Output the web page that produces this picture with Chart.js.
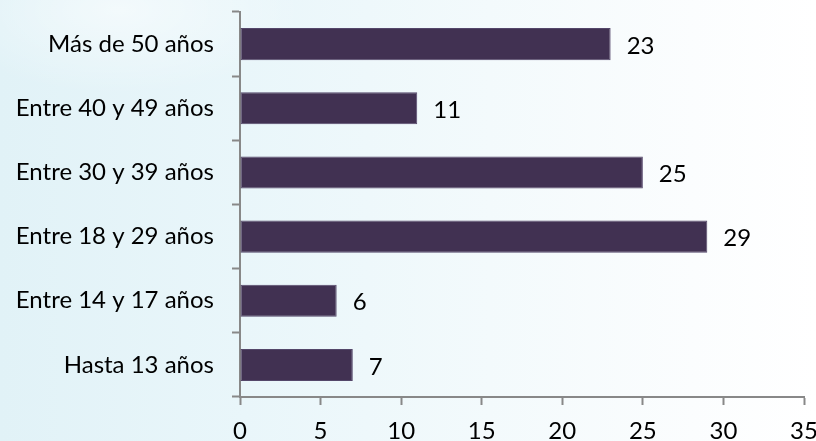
<!DOCTYPE html>
<html lang="es">
<head>
<meta charset="utf-8">
<script src="https://cdn.jsdelivr.net/npm/chart.js@4/dist/chart.umd.min.js"></script>
<style>
  html, body { margin: 0; padding: 0; }
  body {
    width: 816px; height: 441px; overflow: hidden;
    background:
      radial-gradient(ellipse 260px 120px at 120px 10px, rgba(255,255,255,0.55), rgba(255,255,255,0) 70%),
      linear-gradient(to right, #e1f2f7 0%, #e9f6fa 30%, #f3fafc 60%, #fbfdfe 85%, #ffffff 100%);
  }
  #wrap { position: relative; width: 816px; height: 441px; }
</style>
</head>
<body>
<div id="wrap"><canvas id="chart"></canvas></div>
<script>
// Age groups, listed top to bottom
const categories = [
  'Más de 50 años',
  'Entre 40 y 49 años',
  'Entre 30 y 39 años',
  'Entre 18 y 29 años',
  'Entre 14 y 17 años',
  'Hasta 13 años'
];
const values = [23, 11, 25, 29, 6, 7];
const xTicks = [0, 5, 10, 15, 20, 25, 30, 35];

const FONT = 'Lato, "Open Sans", "Noto Sans", sans-serif';
const FONT_SIZE = 24;
const AXIS_GREY = '#888888';

// Writes each bar's value just past its end
const valueLabels = {
  id: 'valueLabels',
  afterDatasetsDraw(chart) {
    const ctx = chart.ctx;
    const meta = chart.getDatasetMeta(0);
    ctx.save();
    ctx.font = FONT_SIZE + 'px ' + FONT;
    ctx.fillStyle = '#000000';
    ctx.textAlign = 'left';
    ctx.textBaseline = 'middle';
    meta.data.forEach((bar, i) => {
      ctx.fillText(String(values[i]), bar.x + 16, bar.y + 2);
    });
    ctx.restore();
  }
};

new Chart(document.getElementById('chart'), {
  type: 'bar',
  data: {
    labels: categories,
    datasets: [{
      data: values,
      backgroundColor: '#413152',
      borderColor: '#54476a',
      borderWidth: 1,
      borderSkipped: false,
      barPercentage: 0.5,
      categoryPercentage: 1.0
    }]
  },
  options: {
    indexAxis: 'y',
    responsive: true,
    maintainAspectRatio: false,
    animation: false,
    layout: { padding: { top: 12, right: 12, left: 0, bottom: 0 } },
    plugins: {
      legend: { display: false },
      tooltip: { enabled: false }
    },
    scales: {
      x: {
        min: 0,
        max: 35,
        afterBuildTicks(scale) {
          scale.ticks = xTicks.map(v => ({ value: v }));
        },
        afterFit(scale) {
          scale.height = 44;
          scale.paddingLeft = 0;
          scale.paddingRight = 0;
        },
        border: { display: true, color: AXIS_GREY, width: 2 },
        grid: {
          display: true,
          drawOnChartArea: false,
          drawTicks: true,
          tickLength: 8,
          tickColor: AXIS_GREY,
          tickWidth: 2
        },
        ticks: {
          color: '#000000',
          padding: 12,
          maxRotation: 0,
          font: { family: FONT, size: FONT_SIZE }
        }
      },
      y: {
        offset: true,
        afterFit(scale) {
          scale.width = 240;
          scale.paddingTop = 0;
          scale.paddingBottom = 0;
        },
        border: { display: true, color: AXIS_GREY, width: 2 },
        grid: {
          display: true,
          offset: true,
          drawOnChartArea: false,
          drawTicks: true,
          tickLength: 8,
          tickColor: AXIS_GREY,
          tickWidth: 2
        },
        ticks: {
          color: '#000000',
          padding: 18,
          font: { family: FONT, size: FONT_SIZE }
        }
      }
    }
  },
  plugins: [valueLabels]
});
</script>
</body>
</html>
